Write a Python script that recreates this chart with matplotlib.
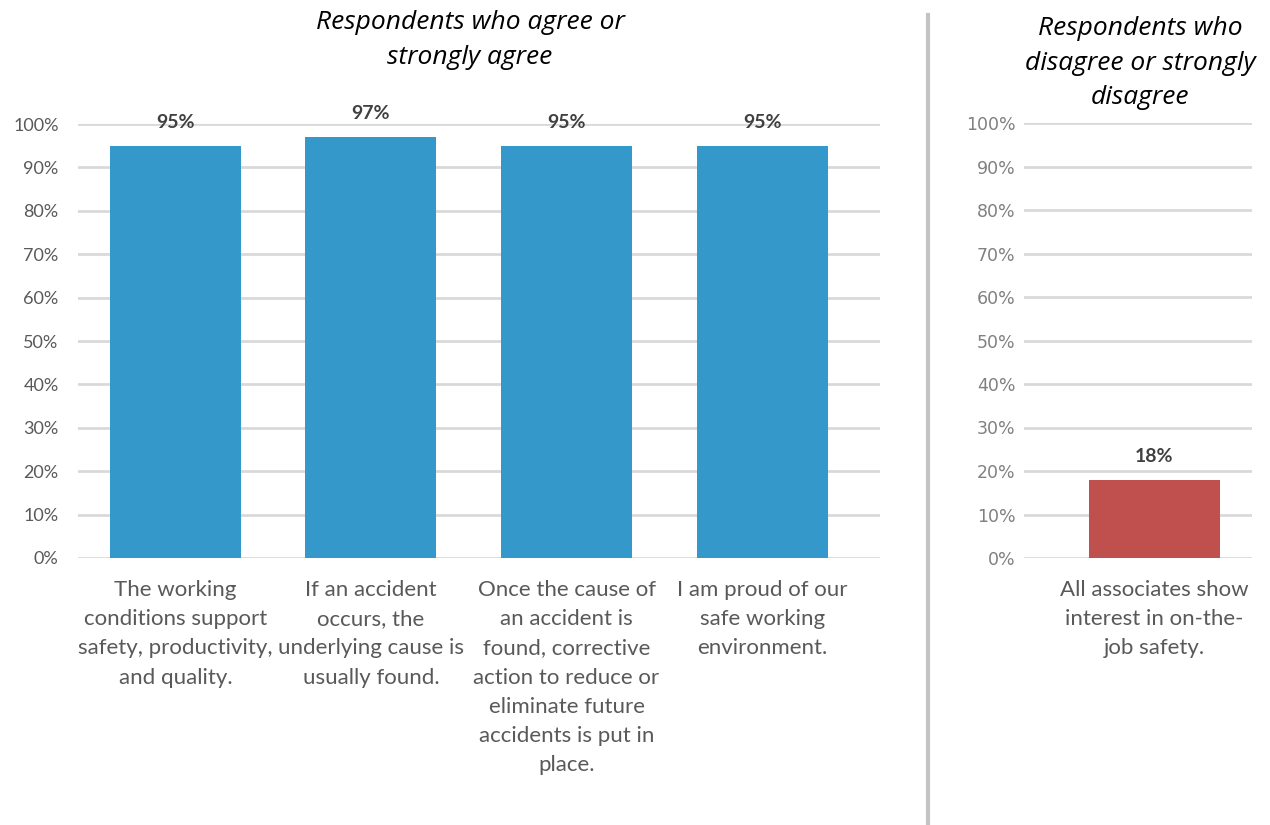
import matplotlib
matplotlib.use("Agg")
import matplotlib.pyplot as plt
from matplotlib.lines import Line2D

# Survey statements and shares of respondents
agree_labels = [
    "The working\nconditions support\nsafety, productivity,\nand quality.",
    "If an accident\noccurs, the\nunderlying cause is\nusually found.",
    "Once the cause of\nan accident is\nfound, corrective\naction to reduce or\neliminate future\naccidents is put in\nplace.",
    "I am proud of our\nsafe working\nenvironment.",
]
agree_values = [95, 97, 95, 95]

disagree_labels = ["All associates show\ninterest in on-the-\njob safety."]
disagree_values = [18]

y_ticks = [0, 10, 20, 30, 40, 50, 60, 70, 80, 90, 100]

BLUE = "#3598cb"
RED = "#c0504d"
GRID = "#d9d9d9"
TXT = "#595959"
LBL = "#404040"

W, H = 1270, 825
fig = plt.figure(figsize=(12.7, 8.25), dpi=100)


def px_axes(x0, x1, y_top, y_bot):
    return fig.add_axes([x0 / W, (H - y_bot) / H, (x1 - x0) / W, (y_bot - y_top) / H])


def style(ax, tick_font, tick_color, tick_size, ypad):
    ax.set_ylim(0, 100)
    ax.set_yticks(y_ticks)
    ax.set_yticklabels([f"{t}%" for t in y_ticks], fontfamily=tick_font,
                       color=tick_color, fontsize=tick_size)
    ax.yaxis.grid(True, color=GRID, linewidth=2)
    ax.set_axisbelow(True)
    for s in ax.spines.values():
        s.set_visible(False)
    ax.tick_params(axis="both", length=0)
    ax.tick_params(axis="y", pad=ypad)
    ax.tick_params(axis="x", pad=16)


def value_labels(ax, bars, values):
    for b, v in zip(bars, values):
        ax.annotate(f"{v}%", (b.get_x() + b.get_width() / 2, v), xytext=(0, 17),
                    textcoords="offset points", ha="center", va="center",
                    fontfamily="Lato", fontweight="bold", fontsize=14, color=LBL)


# Left panel: agree / strongly agree
ax1 = px_axes(78, 880, 124, 558)
x1 = list(range(len(agree_values)))
bars1 = ax1.bar(x1, agree_values, width=0.67, color=BLUE, zorder=2)
ax1.set_xlim(-0.498, 3.603)
style(ax1, "Lato", TXT, 13, 14)
ax1.set_xticks(x1)
ax1.set_xticklabels(agree_labels, fontfamily="Lato", fontsize=16, color=TXT,
                    va="top", linespacing=1.57)
value_labels(ax1, bars1, agree_values)

# Right panel: disagree / strongly disagree
ax2 = px_axes(1024, 1252, 123, 558)
x2 = list(range(len(disagree_values)))
bars2 = ax2.bar(x2, disagree_values, width=1.0, color=RED, zorder=2)
ax2.set_xlim(-0.996, 0.744)
style(ax2, "DejaVu Sans", "#808080", 12.5, 6)
ax2.set_xticks(x2)
ax2.set_xticklabels(disagree_labels, fontfamily="Lato", fontsize=16, color=TXT,
                    va="top", linespacing=1.57)
value_labels(ax2, bars2, disagree_values)

# Titles
fig.text(470 / W, 1 - 40 / H, "Respondents who agree or\nstrongly agree",
         ha="center", va="center", fontfamily="Open Sans", style="italic",
         fontsize=19, color="black", linespacing=1.55)
fig.text(1140 / W, 1 - 63 / H, "Respondents who\ndisagree or strongly\ndisagree",
         ha="center", va="center", fontfamily="Open Sans", style="italic",
         fontsize=19, color="black", linespacing=1.52)

# Vertical divider between the panels
fig.add_artist(Line2D([928 / W, 928 / W], [0, 1 - 15 / H], transform=fig.transFigure,
                      color="#c3c3c3", linewidth=3))

fig.savefig("out.png", dpi=100, facecolor="white")
